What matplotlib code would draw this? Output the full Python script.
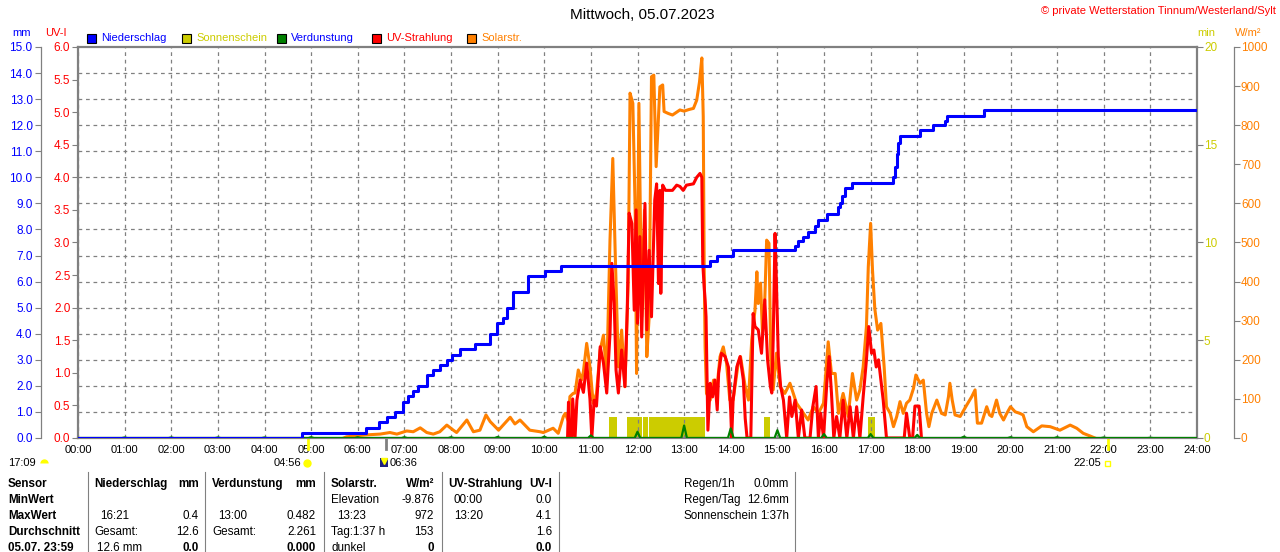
import matplotlib
matplotlib.use('Agg')
import matplotlib.pyplot as plt
import matplotlib.transforms as mtransforms
from matplotlib.lines import Line2D
from matplotlib.patches import Rectangle
import numpy as np

plt.rcParams['font.family'] = ['Liberation Sans', 'DejaVu Sans']
plt.rcParams['font.size'] = 8

# ---- data ----
# Niederschlag, cumulative mm (step at time)
rain_t = [0, 4.80, 6.18, 6.46, 6.62, 6.80, 6.97, 7.08, 7.19, 7.29, 7.49, 7.61, 7.76, 7.91,
          8.02, 8.19, 8.51, 8.84, 8.99, 9.12, 9.20, 9.33, 9.65, 10.02, 10.36, 13.56, 13.70,
          14.05, 15.38, 15.44, 15.55, 15.66, 15.81, 15.87, 16.06, 16.30, 16.34, 16.38, 16.45,
          16.59, 17.49, 17.52, 17.56, 17.59, 17.63, 18.06, 18.33, 18.60, 18.64, 19.43, 24]
rain_mm = [0, 0.2, 0.4, 0.6, 0.8, 1.0, 1.4, 1.6, 1.8, 2.0, 2.4, 2.6, 2.8, 3.0,
           3.2, 3.4, 3.6, 4.0, 4.4, 4.6, 5.0, 5.6, 6.2, 6.4, 6.6, 6.8, 7.0,
           7.2, 7.35, 7.55, 7.7, 7.9, 8.15, 8.35, 8.6, 8.85, 9.0, 9.3, 9.6,
           9.8, 10.0, 10.4, 10.9, 11.3, 11.6, 11.8, 12.0, 12.15, 12.35, 12.6, 12.6]

# Sonnenschein, minutes
sun_start = [11.39, 11.78, 12.12, 12.25, 14.71, 16.95]
sun_end = [11.55, 12.09, 12.22, 13.45, 14.84, 17.09]
sun_min = [1.05, 1.05, 1.05, 1.05, 1.05, 1.05]

# Verdunstung, mm per hour
evap_h = list(range(1, 24))
evap_mm = [0.02, 0.02, 0.02, 0.02, 0.03, 0.03, 0.03, 0.03, 0.04, 0.05, 0.10, 0.24,
           0.48, 0.37, 0.30, 0.15, 0.15, 0.12, 0.05, 0.03, 0.03, 0.02, 0.01]

# Solarstrahlung, W/m2
solar_t = [5.70, 5.76, 6.19, 6.48, 6.69, 6.84, 7.05, 7.19, 7.34, 7.48, 7.62, 7.76, 7.91, 8.05,
           8.12, 8.34, 8.48, 8.62, 8.75, 8.84, 9.02, 9.27, 9.37, 9.48, 9.69, 9.91, 9.98, 10.19,
           10.30, 10.41, 10.45, 10.52, 10.55, 10.62, 10.66, 10.73, 10.80, 10.84, 10.91, 10.98,
           11.05, 11.12, 11.20, 11.27, 11.34, 11.41, 11.47, 11.52, 11.59, 11.66, 11.73, 11.80,
           11.84, 11.90, 11.95, 11.98, 12.03, 12.09, 12.15, 12.20, 12.25, 12.30, 12.35, 12.40,
           12.45, 12.48, 12.54, 12.57, 12.66, 12.75, 12.85, 12.91, 13.00, 13.10, 13.20, 13.27,
           13.33, 13.38, 13.41, 13.43, 13.45, 13.48, 13.56, 13.63, 13.70, 13.77, 13.84, 13.91,
           13.98, 14.05, 14.16, 14.21, 14.31, 14.38, 14.45, 14.52, 14.56, 14.59, 14.64, 14.68,
           14.73, 14.77, 14.82, 14.86, 14.91, 14.98, 15.06, 15.16, 15.27, 15.41, 15.56, 15.66,
           15.77, 15.88, 15.99, 16.09, 16.16, 16.24, 16.31, 16.41, 16.52, 16.61, 16.70, 16.77,
           16.84, 16.91, 16.95, 17.00, 17.04, 17.09, 17.15, 17.22, 17.29, 17.34, 17.42, 17.49,
           17.56, 17.63, 17.70, 17.77, 17.84, 17.92, 17.97, 18.06, 18.13, 18.20, 18.25, 18.31,
           18.42, 18.52, 18.60, 18.67, 18.70, 18.75, 18.81, 18.92, 19.06, 19.17, 19.24, 19.29,
           19.38, 19.49, 19.55, 19.60, 19.70, 19.77, 19.85, 19.92, 20.00, 20.10, 20.20, 20.27,
           20.35, 20.49, 20.67, 20.85, 21.06, 21.28, 21.42, 21.56, 21.71, 21.81]
solar_w = [0, 3, 8, 10, 14, 10, 18, 16, 26, 14, 10, 16, 33, 20,
           14, 46, 16, 20, 59, 42, 20, 53, 36, 46, 20, 16, 14, 25,
           12, 55, 63, 42, 106, 114, 115, 174, 148, 170, 242, 182,
           89, 114, 225, 263, 157, 506, 715, 481, 182, 276, 131, 396,
           882, 856, 583, 165, 856, 310, 583, 208, 310, 924, 928, 694,
           822, 898, 903, 835, 830, 826, 834, 839, 836, 840, 843, 864,
           911, 972, 822, 438, 233, 114, 97, 148, 123, 208, 233, 191,
           97, 97, 191, 208, 131, 97, 251, 327, 425, 344, 396, 268,
           353, 506, 498, 200, 123, 217, 131, 114, 140, 89, 63, 46,
           80, 63, 89, 246, 165, 165, 63, 114, 55, 165, 97, 123,
           182, 285, 438, 549, 430, 330, 276, 293, 182, 80, 63, 29,
           55, 93, 63, 89, 97, 127, 161, 140, 148, 63, 29, 63,
           97, 63, 59, 106, 140, 97, 59, 55, 84, 106, 123, 38,
           38, 80, 59, 55, 97, 63, 46, 63, 80, 67, 63, 59,
           29, 16, 31, 29, 20, 33, 25, 12, 5, 0]

# UV-Strahlung, UV-I
uv_t = [10.50, 10.52, 10.55, 10.59, 10.61, 10.66, 10.70, 10.77, 10.84, 10.91, 10.95, 10.98,
        11.02, 11.07, 11.12, 11.20, 11.27, 11.34, 11.41, 11.45, 11.50, 11.54, 11.59, 11.66,
        11.73, 11.78, 11.82, 11.88, 11.93, 11.97, 12.00, 12.05, 12.09, 12.16, 12.20, 12.25,
        12.30, 12.37, 12.41, 12.45, 12.48, 12.50, 12.54, 12.60, 12.75, 12.84, 12.91, 12.98,
        13.05, 13.20, 13.27, 13.34, 13.38, 13.40, 13.43, 13.45, 13.47, 13.51, 13.56, 13.61,
        13.66, 13.71, 13.74, 13.80, 13.88, 13.95, 14.00, 14.02, 14.05, 14.13, 14.20, 14.27,
        14.31, 14.35, 14.43, 14.48, 14.52, 14.59, 14.66, 14.73, 14.79, 14.85, 14.88, 14.91,
        14.95, 14.98, 15.02, 15.07, 15.13, 15.20, 15.26, 15.31, 15.38, 15.45, 15.52, 15.59,
        15.70, 15.76, 15.83, 15.88, 15.93, 15.99, 16.06, 16.11, 16.16, 16.21, 16.27, 16.34,
        16.41, 16.49, 16.56, 16.63, 16.70, 16.77, 16.84, 16.91, 16.96, 17.02, 17.07, 17.12,
        17.17, 17.22, 17.27, 17.34, 17.72, 17.77, 17.84, 17.90, 17.95, 18.04, 18.09]
uv_val = [0, 0.55, 0, 0, 0.6, 0, 0.58, 0.89, 0.7, 1.15, 0.84, 0.6,
          0, 0.58, 0.49, 1.4, 1.15, 0.69, 1.6, 2.68, 2.07, 1.04, 0.69, 1.35,
          0.79, 1.96, 3.45, 3.29, 1.96, 3.5, 1.76, 3.09, 1.55, 3.6, 1.66, 2.88,
          1.86, 3.65, 3.9, 2.37, 3.8, 2.22, 3.88, 3.8, 3.8, 3.88, 3.86, 3.8,
          3.88, 3.9, 4.0, 4.06, 4.0, 2.68, 2.32, 2.12, 1.86, 0.12, 0.84, 0.63,
          0.89, 0.43, 0.99, 1.3, 1.25, 1.09, 0.4, 0, 0.58, 1.09, 1.25, 0.89,
          0.3, 0, 0, 1.91, 1.71, 1.66, 1.3, 2.12, 1.2, 0.79, 0.69, 1.5,
          3.14, 2.37, 1.25, 0.79, 0.58, 0, 0.63, 0.33, 0.58, 0, 0.43, 0,
          0, 0.48, 0.79, 0, 0.38, 0, 0.84, 1.25, 0.69, 0, 0.33, 0,
          0.58, 0, 0.48, 0, 0.48, 0, 0.63, 1.2, 1.71, 1.3, 1.35, 1.09,
          1.2, 0.89, 0.58, 0, 0, 0.38, 0, 0, 0.49, 0.49, 0]

sunrise = 4 + 56 / 60
sunset = 22 + 5 / 60
rain_start = 6 + 36 / 60
hour_labels = ['%02d:00' % h for h in range(25)]

legend_names = ['Niederschlag', 'Sonnenschein', 'Verdunstung', 'UV-Strahlung', 'Solarstr.']
legend_fill = ['#0000ff', '#cccc00', '#008000', '#ff0000', '#ff8000']
legend_text = ['#0000ff', '#cccc00', '#0000ff', '#ff0000', '#ff8000']

# table below the chart: rows of (x px, align, text, bold)
table_rows = [
    [(8, 'left', 'Sensor', True), (94, 'left', 'Niederschlag', True), (199, 'right', 'mm', True),
     (212, 'left', 'Verdunstung', True), (316, 'right', 'mm', True),
     (331, 'left', 'Solarstr.', True), (434, 'right', 'W/m²', True),
     (448, 'left', 'UV-Strahlung', True), (552, 'right', 'UV-I', True),
     (684, 'left', 'Regen/1h', False), (789, 'right', '0.0mm', False)],
    [(8, 'left', 'MinWert', True), (331, 'left', 'Elevation', False), (434, 'right', '-9.876', False),
     (454, 'left', '00:00', False), (552, 'right', '0.0', False),
     (684, 'left', 'Regen/Tag', False), (789, 'right', '12.6mm', False)],
    [(8, 'left', 'MaxWert', True), (100, 'left', '16:21', False), (199, 'right', '0.4', False),
     (218, 'left', '13:00', False), (316, 'right', '0.482', False),
     (337, 'left', '13:23', False), (434, 'right', '972', False),
     (454, 'left', '13:20', False), (552, 'right', '4.1', False),
     (684, 'left', 'Sonnenschein', False), (789, 'right', '1:37h', False)],
    [(8, 'left', 'Durchschnitt', True), (94, 'left', 'Gesamt:', False), (199, 'right', '12.6', False),
     (212, 'left', 'Gesamt:', False), (316, 'right', '2.261', False),
     (331, 'left', 'Tag:1:37 h', False), (434, 'right', '153', False),
     (552, 'right', '1.6', False)],
    [(8, 'left', '05.07. 23:59', True), (97, 'left', '12.6 mm', False), (199, 'right', '0.0', True),
     (316, 'right', '0.000', True), (331, 'left', 'dunkel', False), (434, 'right', '0', True),
     (552, 'right', '0.0', True)],
]
table_y = [484, 500, 516, 532, 548]

# ---- figure ----
W, H = 1280, 552
GREY = '#808080'
fig = plt.figure(figsize=(12.8, 5.52), dpi=100)


def fx(x):
    return x / W


def fy(y):
    return 1 - y / H


def ftext(x, y, s, **kw):
    kw.setdefault('va', 'center')
    fig.text(fx(x), fy(y), s, **kw)


L, R, T, B = 78, 1197, 47, 438
ax_min = fig.add_axes([fx(L), fy(B), (R - L) / W, (B - T) / H])
ax_w = ax_min.twinx()
ax_uv = ax_min.twinx()
ax_mm = ax_min.twinx()
ax_w.set_zorder(1)
ax_uv.set_zorder(2)
ax_mm.set_zorder(3)

out_pt = 37 * 72 / 100.0

# base axes: time axis, grid, sunshine (min)
ax_min.set_xlim(0, 24)
ax_min.set_ylim(0, 20)
ax_min.set_xticks(range(25))
ax_min.set_xticklabels(hour_labels)
ax_min.tick_params(axis='x', length=0, pad=5, labelsize=8)
ax_min.yaxis.tick_right()
ax_min.set_yticks([0, 5, 10, 15, 20])
ax_min.set_yticks(np.linspace(0, 20, 16), minor=True)
ax_min.tick_params(axis='y', which='major', length=4, width=0.8, color=GREY,
                   labelcolor='#cccc00', pad=1, labelsize=8.5)
ax_min.tick_params(axis='y', which='minor', length=0)
ax_min.grid(which='minor', axis='y', color=GREY, ls=(0, (3, 3)), lw=0.9)
ax_min.grid(which='major', axis='x', color=GREY, ls=(0, (3, 3)), lw=0.9)
for s in ax_min.spines.values():
    s.set_color(GREY)
    s.set_linewidth(1.6)
ax_min.bar(sun_start, sun_min, width=np.array(sun_end) - np.array(sun_start),
           align='edge', color='#cccc00', lw=0)

# W/m2 axis
ax_w.set_ylim(0, 1000)
ax_w.set_yticks(range(0, 1001, 100))
for s in ax_w.spines.values():
    s.set_visible(False)
ax_w.spines['right'].set_visible(True)
ax_w.spines['right'].set_position(('outward', out_pt))
ax_w.spines['right'].set_color(GREY)
ax_w.spines['right'].set_linewidth(0.9)
ax_w.tick_params(axis='y', length=4, width=0.8, color=GREY, labelcolor='#ff8000',
                 pad=1, labelsize=8.5)
ax_w.plot(solar_t, solar_w, color='#ff8000', lw=2.2)

# UV axis
ax_uv.set_ylim(0, 6)
ax_uv.yaxis.tick_left()
ax_uv.set_yticks(np.arange(0, 6.01, 0.5))
ax_uv.set_yticklabels(['%.1f' % v for v in np.arange(0, 6.01, 0.5)])
for s in ax_uv.spines.values():
    s.set_visible(False)
ax_uv.tick_params(axis='y', length=4, width=0.8, color=GREY, labelcolor='#ff0000',
                  pad=1.5, labelsize=8.5)
ax_uv.plot(uv_t, uv_val, color='#ff0000', lw=2.2)

# mm axis
ax_mm.set_ylim(0, 15)
ax_mm.yaxis.tick_left()
ax_mm.set_yticks(range(16))
ax_mm.set_yticklabels(['%.1f' % v for v in range(16)])
for s in ax_mm.spines.values():
    s.set_visible(False)
ax_mm.spines['left'].set_visible(True)
ax_mm.spines['left'].set_position(('outward', out_pt))
ax_mm.spines['left'].set_color(GREY)
ax_mm.spines['left'].set_linewidth(0.9)
ax_mm.tick_params(axis='y', length=4, width=0.8, color=GREY, labelcolor='#0000ff',
                  pad=2, labelsize=8.5)
ex, ey = [0], [0]
for h, v in zip(evap_h, evap_mm):
    ex += [h - 0.06, h, h + 0.06]
    ey += [0, v, 0]
ex.append(24)
ey.append(0)
ax_mm.plot(ex, ey, color='#008000', lw=1.6)
ax_mm.step(rain_t, rain_mm, where='post', color='#0000ff', lw=2.2)

# sunrise / sunset marks under the time axis
tr = mtransforms.blended_transform_factory(ax_min.transData, ax_min.transAxes)
for h, c in [(sunrise, '#ffff00'), (rain_start, GREY), (sunset, '#ffff00')]:
    ax_min.plot([h, h], [0, -11 / 391], transform=tr, color=c, lw=2, clip_on=False)

ftext(8, 463, '17:09', ha='left')
fig.add_artist(Line2D([fx(44)], [fy(463)], marker='o', ms=6, color='#ffff00',
                      fillstyle='top', markeredgewidth=0, transform=fig.transFigure))
ftext(301, 463, '04:56', ha='right')
fig.add_artist(Line2D([fx(307)], [fy(463)], marker='o', ms=5, color='#ffff00',
                      transform=fig.transFigure))
fig.add_artist(Rectangle((fx(380), fy(467)), 8 / W, 9 / H, transform=fig.transFigure,
                         fc='#202080', ec='none'))
fig.add_artist(Line2D([fx(384)], [fy(461)], marker='v', ms=4, color='#ffff00',
                      transform=fig.transFigure))
ftext(390, 463, '06:36', ha='left')
ftext(1101, 463, '22:05', ha='right')
fig.add_artist(Rectangle((fx(1105), fy(466)), 5 / W, 5 / H, transform=fig.transFigure,
                         fc='none', ec='#ffff00', lw=1))

# titles and headers
ftext(642, 15, 'Mittwoch, 05.07.2023', ha='center', fontsize=11)
ftext(1276, 11, '© private Wetterstation Tinnum/Westerland/Sylt', ha='right',
      color='#ff0000', fontsize=8)
ftext(22, 33, 'mm', ha='center', color='#0000ff')
ftext(56, 33, 'UV-I', ha='center', color='#ff0000')
ftext(1206, 33, 'min', ha='center', color='#cccc00')
ftext(1248, 33, 'W/m²', ha='center', color='#ff8000')

leg_x = [87, 182, 277, 372, 467]
for x, name, fc, tc in zip(leg_x, legend_names, legend_fill, legend_text):
    fig.add_artist(Rectangle((fx(x), fy(43)), 9 / W, 9 / H, transform=fig.transFigure,
                             fc=fc, ec='black', lw=0.8))
    ftext(x + 14, 38, name, ha='left', color=tc)

# table
for x in [88, 205, 324, 442, 559, 795]:
    fig.add_artist(Line2D([fx(x), fx(x)], [fy(472), fy(552)], color=GREY, lw=0.8,
                          transform=fig.transFigure))
for y, row in zip(table_y, table_rows):
    for x, ha, s, bold in row:
        ftext(x, y, s, ha=ha, fontsize=8.4, fontweight='bold' if bold else 'normal')

fig.savefig('out.png', dpi=100)
